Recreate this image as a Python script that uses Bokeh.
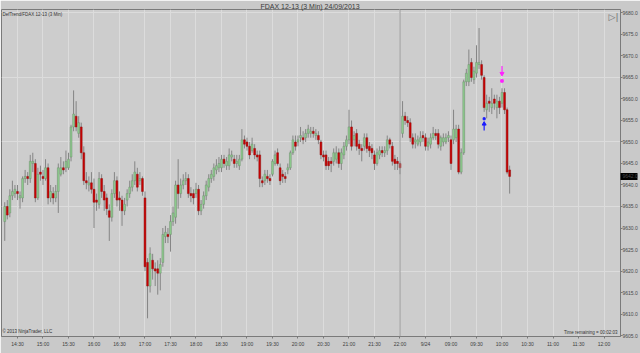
from bokeh.plotting import figure
from bokeh.models import Range1d, FixedTicker, Label, Span, ColumnDataSource, PrintfTickFormatter
from bokeh.embed import file_html
from bokeh.resources import INLINE

# ---- data: FDAX 12-13, 3-minute bars (bar index = position) ----
opens = [9631.5, 9635, 9633.5, 9637.5, 9638, 9638.5, 9637, 9637, 9641.5, 9642,
         9641.5, 9645, 9645, 9637, 9643, 9642, 9641.5, 9644, 9637, 9638,
         9637, 9638.5, 9642.5, 9644, 9644, 9644, 9646.5, 9653.5, 9656, 9652,
         9653.5, 9647.5, 9641, 9640, 9640.5, 9639, 9636.5, 9635.5, 9641.5, 9638.5,
         9637, 9634, 9632.5, 9638, 9641, 9637, 9636.5, 9634, 9636.5, 9638,
         9639.5, 9641, 9642.5, 9641, 9641.5, 9637, 9622, 9616.5, 9622.5, 9620.5,
         9620.5, 9619.5, 9622, 9628, 9628.5, 9628.5, 9631.5, 9632.5, 9640, 9638,
         9640, 9641, 9641.5, 9638, 9638, 9638, 9639, 9634, 9635.5, 9637.5,
         9639.5, 9641.5, 9642, 9643.5, 9644, 9644, 9646, 9644.5, 9644.5, 9646.5,
         9646, 9645, 9644.5, 9646, 9650.5, 9650, 9649, 9648, 9648.5, 9647,
         9647, 9641, 9641, 9642, 9641.5, 9642.5, 9645, 9647.5, 9644, 9642.5,
         9642, 9643.5, 9644, 9647.5, 9650, 9650, 9651, 9651, 9651, 9652,
         9652, 9652.5, 9651.5, 9651.5, 9650, 9647, 9647, 9645.5, 9645.5, 9645.5,
         9646, 9647.5, 9645, 9647, 9649, 9650.5, 9653.5, 9650.5, 9652, 9649.5,
         9648.5, 9649, 9651, 9649, 9648.5, 9647, 9645, 9647, 9648, 9647.5,
         9648, 9650.5, 9649, 9646, 9645.5, 9645,
         9652, 9656, 9655, 9654.5, 9651, 9650, 9649.5, 9650, 9651.5, 9651,
         9649, 9649.5, 9651, 9652, 9652, 9649, 9650, 9650, 9651, 9650.5,
         9650.5, 9651, 9653, 9643, 9647.5, 9664, 9664, 9668.5, 9664.5, 9666,
         9668, 9668, 9665, 9657.5, 9659.5, 9658, 9660, 9658, 9659.5, 9659,
         9661.5, 9657.5, 9643.5]
highs = [9636, 9636.5, 9639, 9641, 9640, 9640, 9638.5, 9642, 9643.5, 9643,
         9647, 9647.5, 9646, 9644, 9644.5, 9643.5, 9646, 9645, 9640, 9639.5,
         9640, 9645, 9646.5, 9645.5, 9648, 9647.5, 9654, 9662, 9659.5, 9656,
         9654.5, 9649, 9643, 9642, 9643, 9641.5, 9638, 9643, 9642.5, 9640,
         9638, 9635.5, 9639, 9643, 9642, 9638.5, 9637.5, 9637, 9639, 9641,
         9642.5, 9645.5, 9644, 9643, 9642, 9638.5, 9623, 9625.5, 9624, 9622,
         9622.5, 9623, 9630, 9630.5, 9630, 9633, 9635, 9641, 9646, 9641.5,
         9642.5, 9643, 9642.5, 9639.5, 9639, 9640.5, 9640, 9636.5, 9638.5, 9641,
         9642.5, 9643.5, 9645, 9646, 9646.5, 9647, 9647, 9646.5, 9648.5, 9648,
         9647, 9647, 9647, 9653, 9651.5, 9651, 9650, 9651, 9649.5, 9648,
         9648, 9642, 9643.5, 9643.5, 9642.5, 9646, 9648, 9648.5, 9645, 9643.5,
         9643, 9645, 9648, 9651.5, 9651.5, 9651.5, 9653.5, 9652.5, 9653, 9654,
         9653.5, 9653.5, 9653, 9652.5, 9650.5, 9648, 9648, 9646.5, 9646.5, 9648.5,
         9649, 9648.5, 9648.5, 9650, 9651.5, 9657.5, 9655, 9652.5, 9653, 9650.5,
         9649.5, 9652, 9652, 9650, 9649.5, 9648, 9648.5, 9649, 9649, 9649,
         9651.5, 9651, 9650, 9647, 9646.5, 9645.5,
         9659.5, 9657, 9656, 9655.5, 9652, 9652, 9651.5, 9652.5, 9652.5, 9652,
         9651, 9652, 9653.5, 9653, 9653, 9651.5, 9652, 9652, 9652.5, 9651.5,
         9657.5, 9654, 9654, 9648.5, 9664.5, 9667, 9671.5, 9669.5, 9667.5, 9672.5,
         9676.5, 9669, 9665.5, 9661, 9660.5, 9662.5, 9661, 9661, 9660.5, 9662.5,
         9662.5, 9658, 9644.5]
lows = [9627, 9632, 9632.5, 9636.5, 9637, 9636.5, 9634.5, 9636, 9640.5, 9640,
        9640.5, 9643, 9636, 9636.5, 9641, 9640, 9641, 9635.5, 9636, 9635.5,
        9636, 9633.5, 9642, 9642.5, 9643, 9643.5, 9645.5, 9652.5, 9652.5, 9651,
        9646, 9640, 9639, 9638.5, 9638, 9630, 9634, 9634.5, 9637, 9634,
        9633, 9627, 9631.5, 9637, 9635, 9634, 9630.5, 9633, 9635, 9637,
        9638.5, 9640, 9638.5, 9640, 9637.5, 9620, 9609, 9615, 9618, 9616.5,
        9614.5, 9615.5, 9621, 9626.5, 9626.5, 9624.5, 9630.5, 9631, 9634.5, 9637,
        9639, 9640, 9637, 9636, 9635.5, 9637, 9633, 9633, 9634.5, 9636.5,
        9638.5, 9640.5, 9641, 9642.5, 9643, 9643, 9644, 9643.5, 9643.5, 9645.5,
        9644, 9644, 9643.5, 9645.5, 9648.5, 9648, 9646, 9647.5, 9646, 9645.5,
        9639.5, 9639.5, 9640, 9640.5, 9640, 9642, 9644.5, 9644.5, 9640, 9640.5,
        9640.5, 9642.5, 9643.5, 9647, 9648, 9649, 9650, 9649.5, 9650, 9651,
        9651, 9651, 9650.5, 9649.5, 9646, 9645.5, 9643.5, 9643.5, 9643, 9644.5,
        9645, 9644, 9643.5, 9646, 9648, 9649.5, 9648, 9649, 9648, 9647,
        9645.5, 9648, 9647.5, 9646.5, 9646, 9643.5, 9644.5, 9646, 9646.5, 9646.5,
        9647, 9648.5, 9644.5, 9643.5, 9643.5, 9642.5,
        9651, 9654, 9653.5, 9650, 9648.5, 9648.5, 9649, 9649, 9650, 9648,
        9648, 9648.5, 9650.5, 9650.5, 9648.5, 9648, 9649, 9649.5, 9650, 9643.5,
        9649.5, 9650, 9642.5, 9642.5, 9647, 9663, 9663, 9664, 9663.5, 9665,
        9667, 9664.5, 9657, 9655.5, 9657, 9656.5, 9657.5, 9655.5, 9656.5, 9658,
        9656.5, 9642.5, 9638]
closes = [9635, 9633, 9637.5, 9638.5, 9639, 9638, 9637.5, 9641.5, 9642, 9641.5,
          9645.5, 9645.5, 9637, 9642.5, 9642.5, 9641.5, 9644, 9637, 9638.5, 9637,
          9638.5, 9644, 9644, 9643.5, 9645.5, 9646, 9653.5, 9656.5, 9653.5, 9654.5,
          9647.5, 9641, 9640.5, 9640.5, 9639, 9636, 9636, 9641.5, 9638.5, 9636.5,
          9634.5, 9632.5, 9638, 9641, 9636.5, 9636.5, 9634, 9635.5, 9638, 9639.5,
          9641, 9643, 9639.5, 9641.5, 9638.5, 9621, 9616.5, 9624, 9620.5, 9620,
          9619.5, 9621.5, 9628.5, 9629, 9628, 9631.5, 9633.5, 9640, 9638, 9640,
          9641, 9641.5, 9638, 9637.5, 9637, 9639, 9634, 9635.5, 9637.5, 9640,
          9641.5, 9642.5, 9644, 9644.5, 9645, 9646, 9645, 9645.5, 9647, 9647,
          9645, 9645.5, 9646, 9650.5, 9649.5, 9649, 9647, 9649.5, 9647, 9646.5,
          9641.5, 9640.5, 9642.5, 9641.5, 9641, 9645.5, 9647, 9645, 9641, 9642,
          9641.5, 9644, 9647.5, 9650.5, 9649, 9650.5, 9651.5, 9650.5, 9652, 9653,
          9652.5, 9652, 9652, 9650.5, 9647, 9646.5, 9644.5, 9644.5, 9645, 9647.5,
          9647.5, 9645, 9647.5, 9649, 9650.5, 9653.5, 9649, 9651.5, 9649, 9648.5,
          9648, 9651, 9648.5, 9648, 9647.5, 9645, 9647.5, 9648, 9647.5, 9648,
          9650.5, 9649.5, 9645.5, 9645, 9645, 9644,
          9656, 9655, 9654.5, 9651, 9649.5, 9650.5, 9650.5, 9651, 9651, 9649,
          9650, 9651, 9652, 9651.5, 9649.5, 9651, 9651, 9651, 9651.5, 9645,
          9653, 9653, 9643, 9647.5, 9664, 9666, 9668, 9665, 9666.5, 9668.5,
          9668.5, 9665.5, 9658, 9659, 9659, 9659, 9659, 9659.5, 9658, 9661.5,
          9657.5, 9643, 9642]

tick_bars = [5, 15, 25, 35, 45, 55, 65, 75, 85, 95, 105, 115,
             125, 135, 145, 155, 165, 175, 185, 195, 205, 215, 225, 235]
tick_labels = ["14:30", "15:00", "15:30", "16:00", "16:30", "17:00", "17:30", "18:00",
               "18:30", "19:00", "19:30", "20:00", "20:30", "21:00", "21:30", "22:00",
               "9/24", "09:00", "09:30", "10:00", "10:30", "11:00", "11:30", "12:00"]
price_ticks = [9605, 9610, 9615, 9620, 9625, 9630, 9635, 9640,
               9645, 9650, 9655, 9660, 9665, 9670, 9675, 9680]
grid_prices = [9620, 9635, 9650, 9665, 9680]
session_break_bar = 155
last_price = 9642.0

# strategy signal markers
long_bar = [188]
long_dot = [9655.4]
long_arrow_head = [9654.2]
long_arrow_tail = [9652.7]
short_bar = [195]
short_dot = [9664.2]
short_arrow_head = [9665.9]
short_arrow_tail = [9667.7]

font = "Liberation Sans"

# ---- figure ----
p = figure(width=640, height=353, output_backend="svg", toolbar_location=None,
           x_range=Range1d(-1.27, 241.47), y_range=Range1d(9604.77, 9680.81),
           y_axis_location="right",
           min_border_left=1, min_border_right=20, min_border_top=9, min_border_bottom=17,
           background_fill_color="#CDCDCD", border_fill_color="#C9C9C9",
           outline_line_color="#7A7A7A", outline_line_width=1)

p.title.text = "FDAX 12-13 (3 Min)  24/09/2013"
p.title.align = "center"
p.title.text_font = font
p.title.text_font_size = "7px"
p.title.text_font_style = "normal"
p.title.text_color = "#3A3A3A"
p.title.standoff = 0
p.title.offset = 7

# axes
p.xaxis.ticker = FixedTicker(ticks=tick_bars)
p.xaxis.major_label_overrides = {b: l for b, l in zip(tick_bars, tick_labels)}
p.xaxis.major_label_text_font_size = "5px"
p.xaxis.major_label_text_font = font
p.xaxis.major_label_text_color = "#404040"
p.xaxis.major_tick_out = 2
p.xaxis.major_tick_in = 0
p.xaxis.minor_tick_out = 0
p.xaxis.minor_tick_in = 0
p.xaxis.major_label_standoff = 2
p.xaxis.axis_line_color = "#7A7A7A"
p.xaxis.major_tick_line_color = "#7A7A7A"

# price axis; the current-price box is drawn as a thick black minor tick
p.yaxis.ticker = FixedTicker(ticks=price_ticks + [last_price], minor_ticks=[last_price])
p.yaxis.formatter = PrintfTickFormatter(format="%.1f")
p.yaxis.major_label_text_font_size = "5px"
p.yaxis.major_label_text_font = font
p.yaxis.major_label_text_color = "#4A4A4A"
p.yaxis.major_tick_out = 2
p.yaxis.major_tick_in = 0
p.yaxis.minor_tick_out = 17
p.yaxis.minor_tick_in = 0
p.yaxis.minor_tick_line_width = 7
p.yaxis.minor_tick_line_color = "black"
p.yaxis.major_label_standoff = -15
p.yaxis.axis_line_color = "#7A7A7A"
p.yaxis.major_tick_line_color = "#7A7A7A"

# grids
p.xgrid.grid_line_color = "#DCDCDC"
p.ygrid.ticker = FixedTicker(ticks=grid_prices)
p.ygrid.grid_line_color = "#DCDCDC"

p.add_layout(Span(location=session_break_bar, dimension="height",
                  line_color="#9A9A9A", line_width=1))

# candles
idx = list(range(len(closes)))
up = [c >= o for o, c in zip(opens, closes)]
src = ColumnDataSource(dict(
    x=idx, high=highs, low=lows,
    top=[max(o, c) for o, c in zip(opens, closes)],
    bottom=[min(o, c) for o, c in zip(opens, closes)],
    fill=["#8FCF8F" if u else "#CC0000" for u in up],
    line=["#6F8F6F" if u else "#8E1010" for u in up],
))
p.segment(x0="x", y0="low", x1="x", y1="high", source=src, line_color="#858585", line_width=1)
p.vbar(x="x", top="top", bottom="bottom", width=0.72, source=src,
       fill_color="fill", line_color="line", line_width=0.5)

# signals
p.segment(x0=long_bar, y0=long_arrow_tail, x1=long_bar, y1=long_arrow_head,
          line_color="#1A1AFF", line_width=1.2)
p.scatter(x=long_bar, y=long_arrow_head, marker="triangle", size=4,
          fill_color="#1A1AFF", line_color="#1A1AFF")
p.scatter(x=long_bar, y=long_dot, marker="square", size=2,
          fill_color="#1A1AFF", line_color="#1A1AFF")
p.segment(x0=short_bar, y0=short_arrow_tail, x1=short_bar, y1=short_arrow_head,
          line_color="#FF22FF", line_width=1.2)
p.scatter(x=short_bar, y=short_arrow_head, marker="inverted_triangle", size=4,
          fill_color="#FF22FF", line_color="#FF22FF")
p.scatter(x=short_bar, y=short_dot, marker="square", size=2.5,
          fill_color="#FF22FF", line_color="#FF22FF")

# texts inside the frame (screen units: x from frame left, y from frame bottom)
def screen_label(text, x, y, size, align="left", color="#333333", fnt=font):
    p.add_layout(Label(x=x, y=y, x_units="screen", y_units="screen", text=text,
                       text_font=fnt, text_font_size=size, text_color=color,
                       text_align=align, text_baseline="middle"))

screen_label("DefTrend/FDAX 12-13 (3 Min)", 1, 322, "4.5px")
screen_label("\u00a9 2013 NinjaTrader, LLC", 1, 5, "4.5px")
screen_label("Time remaining = 00:02:03", 616, 4, "4.5px", align="right")
screen_label("\u25b7|", 612, 320, "9px", align="center", color="#707070", fnt="DejaVu Sans")

open("out.html", "w").write(file_html(p, INLINE))
